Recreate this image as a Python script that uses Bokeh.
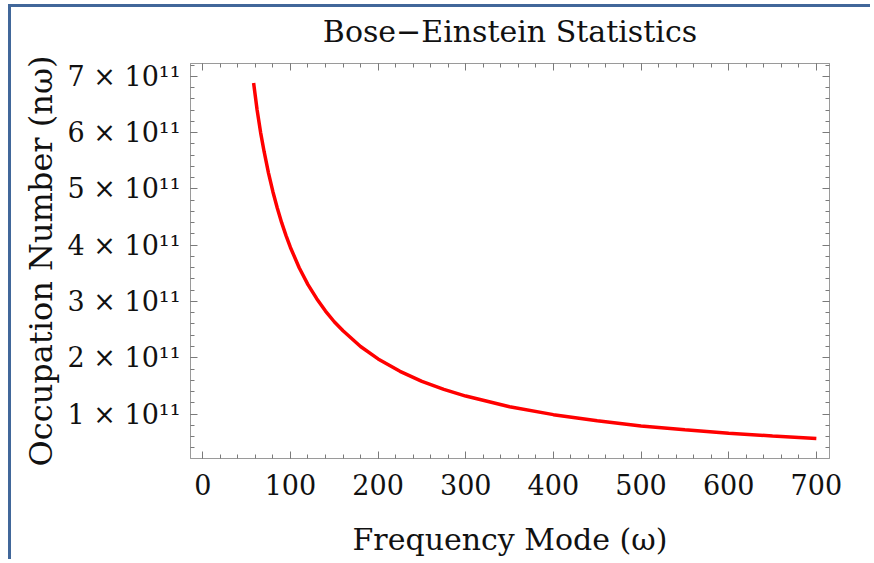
from bokeh.plotting import figure
from bokeh.models import Range1d, LinearAxis, FixedTicker, CustomLabelingPolicy
from bokeh.embed import file_html
from bokeh.resources import INLINE

# ---- data ----
omega = [58, 62, 66, 70, 75, 80, 85, 90, 95, 100, 110, 120, 130, 140, 150,
         160, 180, 200, 225, 250, 275, 300, 350, 400, 450, 500, 550, 600, 650, 700]
occupation = [6.88e11, 6.40e11, 6.00e11, 5.66e11, 5.28e11, 4.95e11, 4.66e11,
              4.40e11, 4.17e11, 3.96e11, 3.60e11, 3.30e11, 3.05e11, 2.83e11,
              2.64e11, 2.48e11, 2.20e11, 1.98e11, 1.76e11, 1.58e11, 1.44e11,
              1.32e11, 1.13e11, 0.99e11, 0.88e11, 0.79e11, 0.72e11, 0.66e11,
              0.61e11, 0.565e11]

x_major = [0, 100, 200, 300, 400, 500, 600, 700]
x_minor = list(range(0, 720, 20))
y_major = [100000000000, 200000000000, 300000000000, 400000000000,
           500000000000, 600000000000, 700000000000]
y_minor = [int(k * 2e10) for k in range(2, 37)]
y_tick_labels = ["1 × 10¹¹", "2 × 10¹¹", "3 × 10¹¹", "4 × 10¹¹",
                 "5 × 10¹¹", "6 × 10¹¹", "7 × 10¹¹"]

title_text = "Bose−Einstein Statistics"
x_label = "Frequency Mode (ω)"
y_label = "Occupation Number (nω)"

FONT = "DejaVu Serif"
FRAME = "#9a9a9a"
TICK = "#7a7a7a"
BLUE = "#41679a"

p = figure(width=862, height=555, output_backend="svg", toolbar_location=None,
           x_range=Range1d(-14, 715), y_range=Range1d(0.211e11, 7.227e11),
           min_border_left=179, min_border_right=44, min_border_top=56,
           min_border_bottom=104)
p.styles = {"border-top": f"3px solid {BLUE}", "border-left": f"3px solid {BLUE}",
            "margin-left": "8px", "margin-top": "4px"}

p.grid.visible = False
p.outline_line_color = FRAME
p.outline_line_width = 1
p.background_fill_color = "white"
p.border_fill_color = "white"

p.line(omega, occupation, line_color="#ff0000", line_width=3.5)


def style_axis(ax, labels=True):
    ax.axis_line_color = FRAME
    ax.major_tick_line_color = TICK
    ax.minor_tick_line_color = TICK
    ax.major_tick_in = 7
    ax.major_tick_out = 0
    ax.minor_tick_in = 4
    ax.minor_tick_out = 0
    ax.major_label_text_font = FONT
    ax.major_label_text_color = "#111111"
    ax.axis_label_text_font = FONT
    ax.axis_label_text_font_style = "normal"
    ax.axis_label_text_color = "#111111"
    if not labels:
        ax.major_label_text_font_size = "0px"
        ax.major_label_standoff = 0
        ax.major_label_policy = CustomLabelingPolicy(code="""
            const r = indices.clone()
            for (let i = 0; i < indices.size; i++) r.unset(i)
            return r
        """)


xax = p.xaxis[0]
xax.ticker = FixedTicker(ticks=x_major, minor_ticks=x_minor)
style_axis(xax)
xax.major_label_text_font_size = "27px"
xax.major_label_standoff = 15
xax.axis_label = x_label
xax.axis_label_text_font_size = "30px"
xax.axis_label_standoff = 24

yax = p.yaxis[0]
yax.ticker = FixedTicker(ticks=y_major, minor_ticks=y_minor)
style_axis(yax)
yax.major_label_overrides = dict(zip(y_major, y_tick_labels))
yax.major_label_text_font_size = "27px"
yax.major_label_standoff = 10
yax.axis_label = y_label
yax.axis_label_text_font_size = "32px"
yax.axis_label_standoff = 5

# top axis carries the ticks and the chart title
top = LinearAxis(ticker=FixedTicker(ticks=x_major, minor_ticks=x_minor))
style_axis(top, labels=False)
top.axis_label = title_text
top.axis_label_text_font_size = "30px"
top.axis_label_standoff = 15
p.add_layout(top, "above")

right = LinearAxis(ticker=FixedTicker(ticks=y_major, minor_ticks=y_minor))
style_axis(right, labels=False)
p.add_layout(right, "right")

open("out.html", "w", encoding="utf-8").write(file_html(p, INLINE))
